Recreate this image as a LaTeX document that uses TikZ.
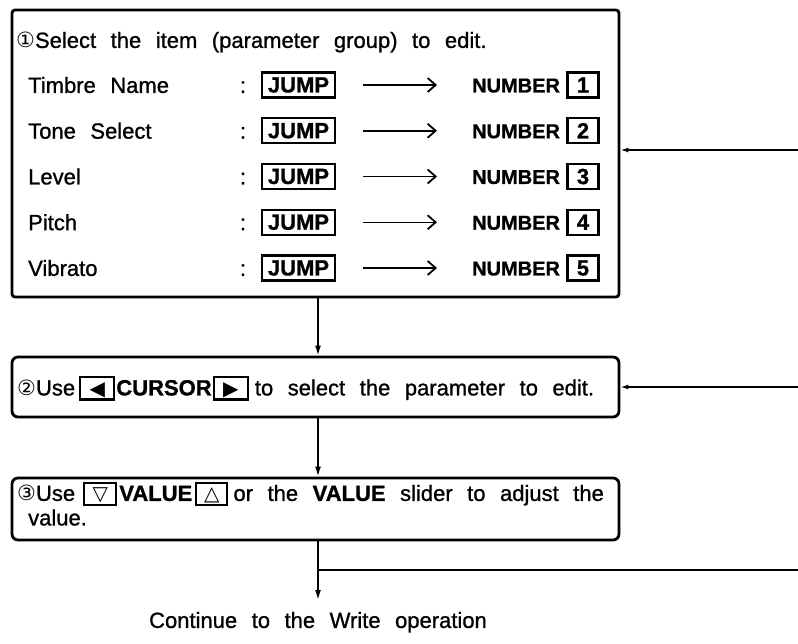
\documentclass[tikz,border=0pt]{standalone}
\usepackage{fontspec}
\setmainfont{Liberation Sans}[FakeBold=1.0]
\newfontfamily\symf{DejaVu Sans}
\usetikzlibrary{arrows.meta,calc}
\newcommand{\kbox}[2]{{\setlength{\fboxsep}{0pt}\setlength{\fboxrule}{2.1pt}\fbox{\rule[-3pt]{0pt}{20pt}\makebox[#1]{#2}}}}
\newcommand{\circnum}[1]{{\symf\fontsize{21}{22}\selectfont #1}}
\newcommand{\tri}[1]{{\symf\fontsize{20}{16}\selectfont #1}}
\newcommand{\mainfnt}{\fontsize{22}{25}\selectfont\setlength{\spaceskip}{0.66em}}
\tikzset{
  txt/.style={inner sep=0pt, anchor=base west, font=\mainfnt},
  stepbox/.style={draw, line width=2.8pt, inner sep=0pt, minimum width=607pt},
  keyn/.style={draw, line width=2.2pt, inner sep=0pt, font=\fontsize{22}{25}\selectfont\bfseries, minimum height=25pt},
  flow/.style={line width=1.6pt, -{Latex[length=10pt,width=6pt]}},
  back/.style={line width=1.5pt, -{Latex[length=8pt,width=5pt]}},
  jarrow/.style={line width=1.5pt, -{Straight Barb[length=8pt,width=14pt,line width=1.8pt]}},
  plain/.style={line width=1.5pt}
}
\begin{document}
\begin{tikzpicture}[x=1pt,y=-1pt]
\useasboundingbox (0,0) rectangle (798,643);
\node[stepbox, rounded corners=3pt, minimum height=287pt] (box1) at (315.5,153.5) {};
\node[stepbox, rounded corners=6pt, minimum height=60pt] (box2) at (315.5,387) {};
\node[stepbox, rounded corners=6pt, minimum height=62pt] (box3) at (315.5,509) {};
\node[txt] (h1) at (16,47.9) {\circnum{①}Select the item (parameter group) to edit.};
\foreach \i/\nm/\yy in {1/Timbre Name/85, 2/Tone Select/130.75, 3/Level/176.5, 4/Pitch/222.25, 5/Vibrato/268} {
  \node[txt] (name\i) at (28,\yy+7.9) {\nm};
  \node[txt, anchor=base] (colon\i) at (243,\yy+7.9) {:};
  \node[keyn, minimum width=73pt] (jump\i) at (298.5,\yy) {JUMP};
  \node[txt, font=\fontsize{20}{25}\selectfont\bfseries] (numt\i) at (472,\yy+7.4) {NUMBER};
  \node[keyn, minimum width=31pt] (numk\i) at (583,\yy) {\i};
  \draw[jarrow, shorten <=27pt, shorten >=35pt] (jump\i.east) -- (jump\i.east -| numt\i.west);
}
\node[txt] (t2) at (17,395.4) {\circnum{②}Use\hspace{4pt}\kbox{32pt}{\tri{◀}}\hspace{1pt}\textbf{CURSOR}\hspace{1pt}\kbox{32pt}{\tri{▶}}\hspace{6pt}to select the parameter to edit.};
\node[txt] (t3a) at (17,500.9) {\circnum{③}Use\hspace{8pt}\kbox{30pt}{\tri{▽}}\hspace{2pt}\textbf{VALUE}\hspace{3pt}\kbox{29pt}{\tri{△}}\hspace{5pt}or the \textbf{VALUE} slider to adjust the};
\node[txt] (t3b) at (28,525.4) {value.};
\coordinate (vx) at (318,0);
\coordinate (endtip) at (318,600);
\node[txt, anchor=base] (cont) at (318,627.9) {Continue to the Write operation};
\draw[flow] (box1.south -| vx) -- (box2.north -| vx);
\draw[flow] (box2.south -| vx) -- (box3.north -| vx);
\draw[flow] (box3.south -| vx) -- (endtip);
\coordinate (r1) at (798,150);
\coordinate (r2) at (798,387);
\coordinate (r3) at (798,570);
\draw[back] (r1) -- (r1 -| box1.east);
\draw[back] (r2) -- (r2 -| box2.east);
\draw[plain] (r3) -- (r3 -| vx);
\end{tikzpicture}
\end{document}
